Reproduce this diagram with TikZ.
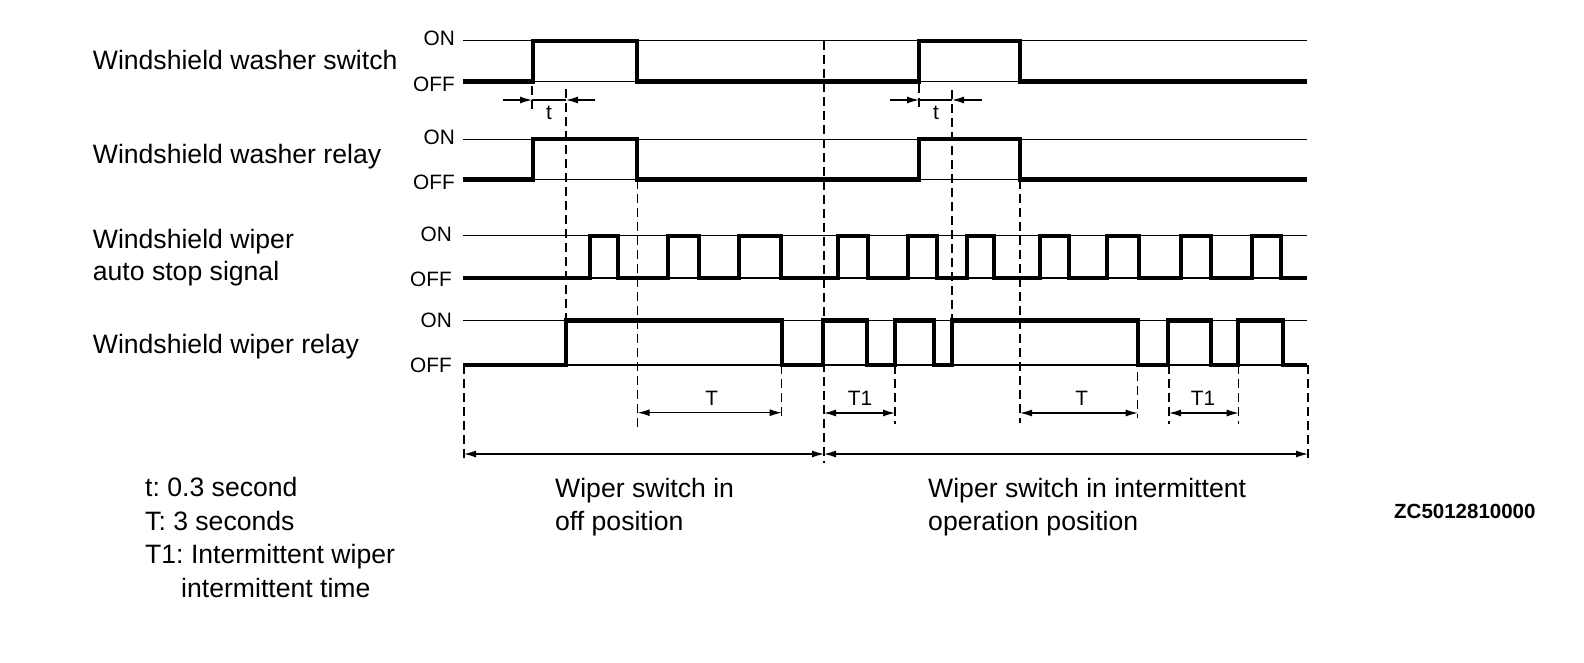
\documentclass[tikz,border=0pt]{standalone}
\usepackage{fontspec}
\setmainfont{Liberation Sans}
\usetikzlibrary{arrows.meta}
\frenchspacing
\begin{document}
\begin{tikzpicture}[x=1pt,y=-1pt,
  thinline/.style={line width=1.2pt},
  sig/.style={line width=4.2pt, line join=miter},
  vdash/.style={line width=1.3pt, dash pattern=on 9pt off 5pt},
  dim/.style={line width=1.2pt, -{Latex[length=12pt,width=7pt]}},
  dimboth/.style={line width=1.2pt, {Latex[length=12pt,width=7pt]}-{Latex[length=12pt,width=7pt]}},
  big/.style={font=\fontsize{26.6}{32}\selectfont, inner sep=0pt},
  lvl/.style={font=\fontsize{20.8}{24}\selectfont, inner sep=0pt},
  code/.style={font=\fontsize{20.5}{24}\selectfont\bfseries, inner sep=0pt},
]
\useasboundingbox (0,0) rectangle (1584,663);

% ---- signal names
\node[big, anchor=base west] (n1) at (92.7,70) {Windshield washer switch};
\node[big, anchor=base west] (n2) at (92.7,164) {Windshield washer relay};
\node[big, anchor=base west] (n3a) at (92.7,248) {Windshield wiper};
\node[big, anchor=base west] (n3b) at (92.7,280) {auto stop signal};
\node[big, anchor=base west] (n4) at (92.7,353) {Windshield wiper relay};

% ---- ON / OFF level labels
\node[lvl, anchor=east] (on1) at (455,38) {ON};
\node[lvl, anchor=east] (off1) at (455,84) {OFF};
\node[lvl, anchor=east] (on2) at (455,137) {ON};
\node[lvl, anchor=east] (off2) at (455,182) {OFF};
\node[lvl, anchor=east] (on3) at (452,234) {ON};
\node[lvl, anchor=east] (off3) at (452,279) {OFF};
\node[lvl, anchor=east] (on4) at (452,320) {ON};
\node[lvl, anchor=east] (off4) at (452,365) {OFF};

% ---- thin reference lines
\foreach \y in {40.7,81.5,139.3,179.5,235.7,278,320.5,365}
  \draw[thinline] (463,\y) -- (1307,\y);

% ---- dashed time markers
\draw[vdash] (464,365) -- (464,463);
\draw[vdash] (532,86) -- (532,112);
\draw[vdash] (566,89) -- (566,320);
\draw[vdash] (637.7,180) -- (637.7,432);
\draw[vdash] (781.7,365) -- (781.7,421);
\draw[vdash] (824,40.7) -- (824,463);
\draw[vdash] (895,365) -- (895,424);
\draw[vdash] (919,84) -- (919,108);
\draw[vdash] (952,90) -- (952,320);
\draw[vdash] (1020,180) -- (1020,423);
\draw[vdash] (1137.7,372) -- (1137.7,418);
\draw[vdash] (1169,365) -- (1169,424);
\draw[vdash] (1238.7,365) -- (1238.7,424);
\draw[vdash] (1308,365) -- (1308,463);

% ---- waveforms
\draw[sig] (463,81.5) -- (533,81.5) -- (533,40.7) -- (637,40.7) -- (637,81.5)
  -- (919,81.5) -- (919,40.7) -- (1020,40.7) -- (1020,81.5) -- (1307,81.5);
\draw[sig] (463,179.5) -- (533,179.5) -- (533,139.3) -- (637,139.3) -- (637,179.5)
  -- (919,179.5) -- (919,139.3) -- (1020,139.3) -- (1020,179.5) -- (1307,179.5);
\draw[sig] (463,278) -- (590,278) -- (590,235.7) -- (618,235.7) -- (618,278)
  -- (668,278) -- (668,235.7) -- (699,235.7) -- (699,278)
  -- (739,278) -- (739,235.7) -- (781,235.7) -- (781,278)
  -- (838,278) -- (838,235.7) -- (868,235.7) -- (868,278)
  -- (908,278) -- (908,235.7) -- (937,235.7) -- (937,278)
  -- (967,278) -- (967,235.7) -- (994,235.7) -- (994,278)
  -- (1040,278) -- (1040,235.7) -- (1069,235.7) -- (1069,278)
  -- (1107,278) -- (1107,235.7) -- (1139,235.7) -- (1139,278)
  -- (1181,278) -- (1181,235.7) -- (1211,235.7) -- (1211,278)
  -- (1252,278) -- (1252,235.7) -- (1281,235.7) -- (1281,278) -- (1307,278);
\draw[sig] (463,365) -- (566,365) -- (566,320.5) -- (782,320.5) -- (782,365)
  -- (823,365) -- (823,320.5) -- (867,320.5) -- (867,365)
  -- (895,365) -- (895,320.5) -- (934,320.5) -- (934,365)
  -- (952,365) -- (952,320.5) -- (1138,320.5) -- (1138,365)
  -- (1168,365) -- (1168,320.5) -- (1211,320.5) -- (1211,365)
  -- (1238,365) -- (1238,320.5) -- (1283,320.5) -- (1283,365) -- (1307,365);

% ---- t dimensions
\coordinate (ta0) at (503,100); \coordinate (ta1) at (532,100);
\coordinate (ta2) at (566,100); \coordinate (ta3) at (595,100);
\draw[dim] (ta0) -- (ta1);
\draw[thinline] (ta1) -- (ta2);
\draw[dim] (ta3) -- (ta2);
\node[lvl, anchor=base] (tl1) at (549,120) {t};
\coordinate (tb0) at (890,100); \coordinate (tb1) at (919,100);
\coordinate (tb2) at (952,100); \coordinate (tb3) at (982,100);
\draw[dim] (tb0) -- (tb1);
\draw[thinline] (tb1) -- (tb2);
\draw[dim] (tb3) -- (tb2);
\node[lvl, anchor=base] (tl2) at (936,120) {t};

% ---- T / T1 dimensions
\coordinate (Ta0) at (637.7,412.7); \coordinate (Ta1) at (781.7,412.7);
\draw[dimboth] (Ta0) -- (Ta1);
\node[lvl] (Tl1) at (711.7,398.7) {T};
\coordinate (T1a0) at (824,413); \coordinate (T1a1) at (895,413);
\draw[dimboth] (T1a0) -- (T1a1);
\node[lvl] (T1l1) at (860,398.7) {T1};
\coordinate (Tb0) at (1020,413); \coordinate (Tb1) at (1137.7,413);
\draw[dimboth] (Tb0) -- (Tb1);
\node[lvl] (Tl2) at (1081.7,398.7) {T};
\coordinate (T1b0) at (1169,413); \coordinate (T1b1) at (1238.7,413);
\draw[dimboth] (T1b0) -- (T1b1);
\node[lvl] (T1l2) at (1203,398.7) {T1};

% ---- period arrows
\coordinate (p0) at (464,454); \coordinate (p1) at (824,454); \coordinate (p2) at (1308,454);
\draw[dimboth] (p0) -- (p1);
\draw[dimboth] (p1) -- (p2);

% ---- period texts
\node[big, anchor=base west] (w1a) at (555,497) {Wiper switch in};
\node[big, anchor=base west] (w1b) at (555,530) {off position};
\node[big, anchor=base west] (w2a) at (928,497) {Wiper switch in intermittent};
\node[big, anchor=base west] (w2b) at (928,530) {operation position};

% ---- legend
\node[big, anchor=base west] (lg1) at (145,496) {t: 0.3 second};
\node[big, anchor=base west] (lg2) at (145,530) {T: 3 seconds};
\node[big, anchor=base west] (lg3) at (145,563) {T1: Intermittent wiper};
\node[big, anchor=base west] (lg4) at (181,597) {intermittent time};

% ---- figure code
\node[code, anchor=base west] (zc) at (1394,518) {ZC5012810000};
\end{tikzpicture}
\end{document}
